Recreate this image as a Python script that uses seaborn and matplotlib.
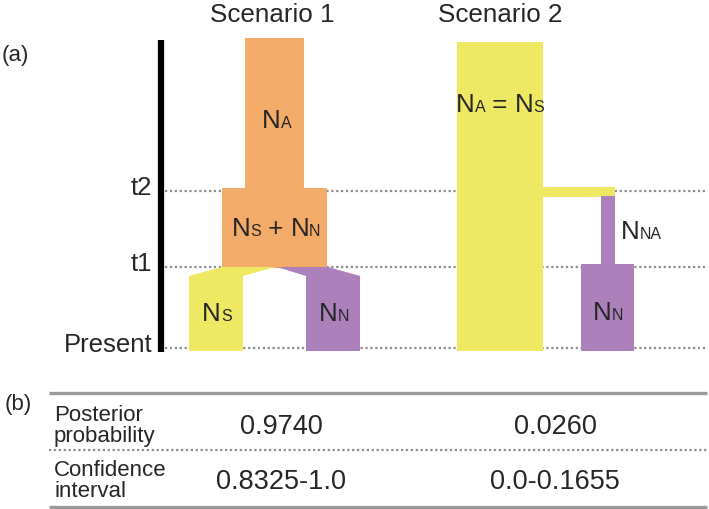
import seaborn as sns
import matplotlib.pyplot as plt
from matplotlib.patches import Polygon
from matplotlib.offsetbox import TextArea, HPacker, AnnotationBbox

# diagram rows (0 = top of the figure, growing downwards)
time_labels = ["t2", "t1", "Present"]
time_levels = [192, 268, 349]
root_level = 41

scenario_names = ["Scenario 1", "Scenario 2"]
scenario_centers = [272, 500]

# rectangular population blocks: left, right, top, bottom, colour key
block_left = [245, 222, 457, 543, 601, 581]
block_right = [304, 327, 543, 615, 615, 634]
block_top = [39, 189, 43, 188, 197, 265]
block_bottom = [193, 269, 352, 198, 266, 352]
block_pop = ["anc", "anc", "south", "south", "north", "north"]

# split at t1 in scenario 1 (polygon outlines)
ns_outline = [(189, 352), (189, 277), (222, 268), (275, 268), (243, 277), (243, 352)]
nn_outline = [(306, 352), (306, 277), (277, 268), (328, 268), (360, 277), (360, 352)]

# population labels: pieces of (text, is_big), anchor
pop_labels = [
    ([("N", 1), ("A", 0)], (277, 121)),
    ([("N", 1), ("S", 0), (" + ", 1), ("N", 1), ("N", 0)], (276, 229)),
    ([("N", 1), ("S", 0)], (217, 314)),
    ([("N", 1), ("N", 0)], (334, 314)),
    ([("N", 1), ("A", 0), (" = ", 1), ("N", 1), ("S", 0)], (500, 105)),
    ([("N", 1), ("NA", 0)], (641, 232)),
    ([("N", 1), ("N", 0)], (608, 313)),
]

# table (b)
row_labels = ["Posterior\nprobability", "Confidence\ninterval"]
posterior = ["0.9740", "0.0260"]
confidence = ["0.8325-1.0", "0.0-0.1655"]
value_columns = [281, 555]
row_centers = [426, 481]

colors = {"anc": "#F3AB69", "south": "#EEE862", "north": "#AC80BA"}

sns.set_theme(style="white")
plt.rcParams['font.family'] = ['Liberation Sans', 'DejaVu Sans']

fig = plt.figure(figsize=(7.09, 5.10), dpi=100)
ax = fig.add_axes([0, 0, 1, 1])
ax.set_xlim(0, 709)
ax.set_ylim(510, 0)
ax.axis("off")

# dotted time guides underneath everything
for lev in time_levels:
    ax.plot([165, 707], [lev, lev], color="#8c8c8c", lw=1.6,
            linestyle=(0, (1, 1.2)), zorder=1)

# time axis
ax.plot([161, 161], [root_level, 353], color="black", lw=4.5,
        solid_capstyle="butt", zorder=3)
for lab, lev in zip(time_labels, time_levels):
    ax.text(152, lev + 3, lab, ha="right", va="baseline", fontsize=18.5)

for name, cx in zip(scenario_names, scenario_centers):
    ax.text(cx, 15, name, ha="center", va="center", fontsize=18.7)

# blocks
for l, r, t, b, p in zip(block_left, block_right, block_top, block_bottom, block_pop):
    ax.bar(l, b - t, width=r - l, bottom=t, align="edge",
           color=colors[p], linewidth=0, zorder=2)
ax.add_patch(Polygon(ns_outline, closed=True, color=colors["south"], lw=0, zorder=2))
ax.add_patch(Polygon(nn_outline, closed=True, color=colors["north"], lw=0, zorder=2))

# population labels with small trailing letters on the baseline
for pieces, xy in pop_labels:
    parts = [TextArea(s, textprops=dict(fontsize=18.7 if big else 11.5,
                                        family="Liberation Sans"))
             for s, big in pieces]
    box = HPacker(children=parts, align="baseline", pad=0, sep=0)
    ab = AnnotationBbox(box, xy, frameon=False, box_alignment=(0.5, 0.5),
                        pad=0, zorder=4)
    ax.add_artist(ab)

ax.text(2, 56, "(a)", ha="left", va="center", fontsize=16)
ax.text(5, 405, "(b)", ha="left", va="center", fontsize=16)

# table rules
ax.plot([49, 707], [394, 394], color="#9a9a9a", lw=2.4, solid_capstyle="butt")
ax.plot([49, 709], [451, 451], color="#8c8c8c", lw=1.6, linestyle=(0, (1, 1.2)))
ax.plot([49, 707], [508, 508], color="#9a9a9a", lw=2.4, solid_capstyle="butt")

for lab, yc in zip(row_labels, row_centers):
    ax.text(54, yc, lab, ha="left", va="center", fontsize=16, linespacing=0.95)
for vals, yc in zip([posterior, confidence], row_centers):
    for v, xc in zip(vals, value_columns):
        ax.text(xc, yc + 1, v, ha="center", va="center", fontsize=19.5)

fig.savefig("out.png", dpi=100)
